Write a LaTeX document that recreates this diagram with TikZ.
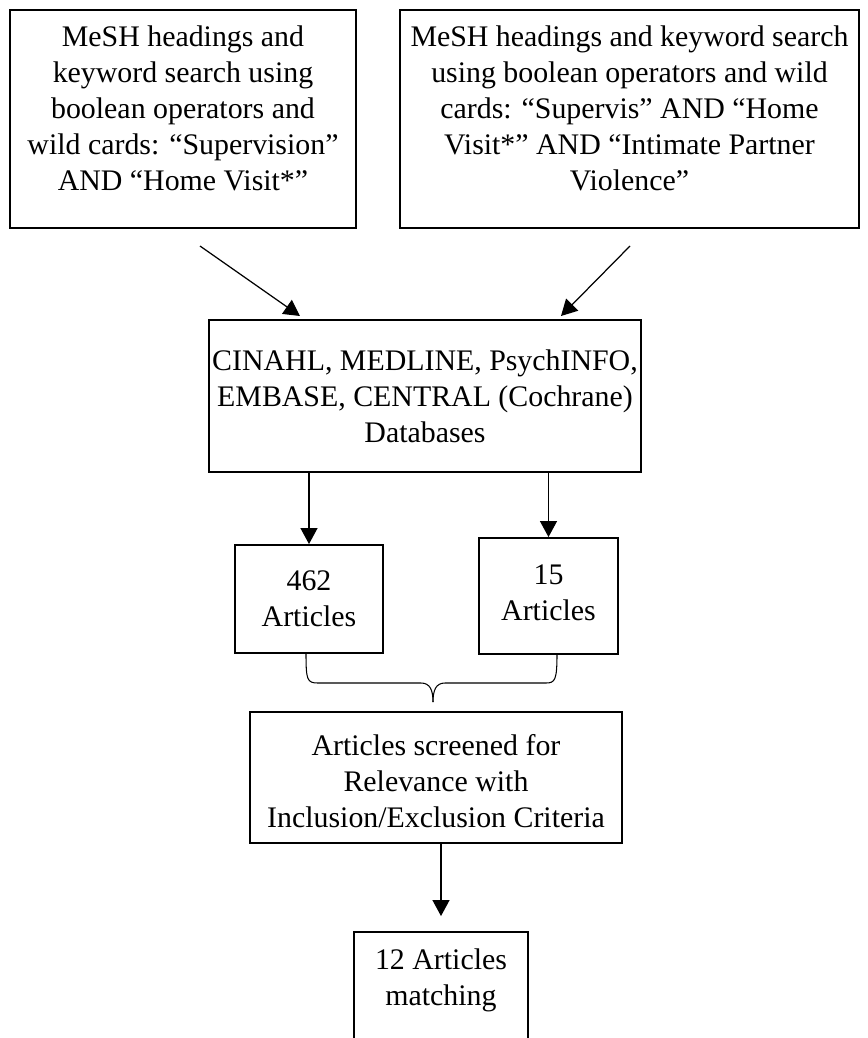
\documentclass[tikz,border=0pt]{standalone}
\usepackage{fontspec}
\setmainfont{Liberation Serif}
\usepackage{tikz}
\usetikzlibrary{positioning,arrows.meta}

\begin{document}
\begin{tikzpicture}[x=0.02cm, y=-0.02cm]
			% Define styles
			\tikzset{frame/.style={draw, line width=1.1pt, inner sep=0pt},
				txt/.style={align=center, inner sep=0pt, font=\fontsize{17}{20.5}\selectfont},
				link/.style={-{Triangle[length=0.32cm, width=0.34cm]}, line width=0.7pt}}
			\useasboundingbox (0,0) rectangle (868,1038);
			
			% Search strings
			\node[frame, minimum width=6.92cm, minimum height=4.36cm] (query1) at (183,119) {};
			\node[txt] (query1text) at (183,108) {MeSH headings and\\keyword search using\\boolean operators and\\wild cards: “Supervision”\\AND “Home Visit*”};
			\node[frame, minimum width=9.18cm, minimum height=4.36cm] (query2) at (629.5,119) {};
			\node[txt] (query2text) at (629.5,108) {MeSH headings and keyword search\\using boolean operators and wild\\cards: “Supervis” AND “Home\\Visit*” AND “Intimate Partner\\Violence”};
			
			% Databases
			\node[frame, minimum width=8.64cm, minimum height=3.04cm] (databases) at (425,396) {};
			\node[txt] (databasestext) at (425,396) {CINAHL, MEDLINE, PsychINFO,\\EMBASE, CENTRAL (Cochrane)\\Databases};
			
			\coordinate (from1) at (200,246);
			\coordinate (to1) at (300,316);
			\coordinate (from2) at (630,246);
			\coordinate (to2) at (561,316);
			\draw[link] (from1) -- (to1);
			\draw[link] (from2) -- (to2);
			
			% Hits
			\node[frame, minimum width=2.96cm, minimum height=2.16cm] (hits1) at (309,599) {};
			\node[txt] (hits1text) at (309,599) {462\\Articles};
			\node[frame, minimum width=2.78cm, minimum height=2.32cm] (hits2) at (548.5,596) {};
			\node[txt] (hits2text) at (548.5,593) {15\\Articles};
			\draw[link] (hits1.north |- databases.south) -- (hits1.north);
			\draw[link] (hits2.north |- databases.south) -- (hits2.north);
			
			% Brace joining both hits
			\coordinate (braceL) at (306,653);
			\coordinate (braceR) at (557,654);
			\coordinate (braceTip) at (433,702);
			\draw[line width=0.6pt] (braceL) .. controls (306,680) and (307,683) .. (318,683) -- (421,683)
				.. controls (430,683) and (433,690) .. (braceTip);
			\draw[line width=0.6pt] (braceTip) .. controls (433,690) and (436,683) .. (445,683) -- (546,683)
				.. controls (555,683) and (557,680) .. (braceR);
			
			% Screening
			\node[frame, minimum width=7.44cm, minimum height=2.62cm] (screen) at (436,777.5) {};
			\node[txt] (screentext) at (436,781) {Articles screened for\\Relevance with\\Inclusion/Exclusion Criteria};
			\node[frame, minimum width=3.48cm, minimum height=3.36cm] (result) at (441,1016) {};
			\node[txt] (resulttext) at (441,980) {12 Articles\\matching};
			\draw[link] (screen.south -| result.north) -- ([yshift=0.3cm]result.north);
		\end{tikzpicture}
\end{document}
